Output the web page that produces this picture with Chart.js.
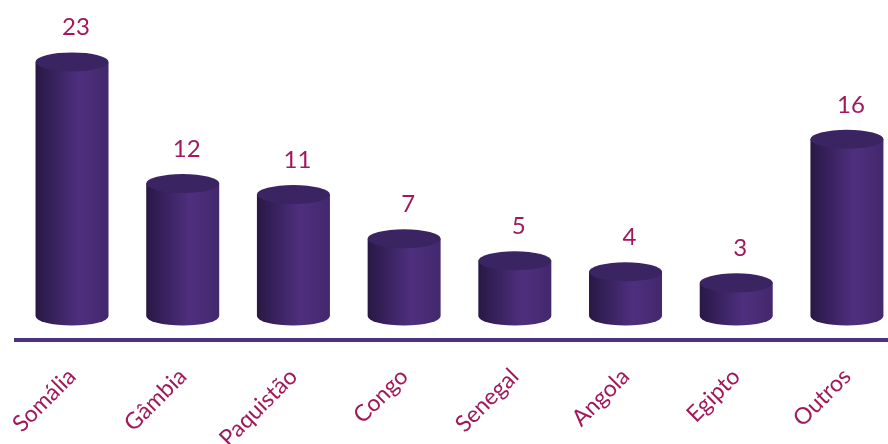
<!DOCTYPE html>
<html>
<head>
    <meta charset="utf-8">
    <title>Países</title>
    <script src="https://cdn.jsdelivr.net/npm/chart.js"></script>
    <style>
        html, body { margin: 0; padding: 0; background: #fff; overflow: hidden; }
        #wrap { width: 888px; height: 444px; }
    </style>
</head>
<body>
    <div id="wrap"><canvas id="chart"></canvas></div>

    <script>
        // dados
        var paises = ["Somália", "Gâmbia", "Paquistão", "Congo", "Senegal", "Angola", "Egipto", "Outros"];
        var valores = [23, 12, 11, 7, 5, 4, 3, 16];

        var corTexto = "#a0195a";
        var fonte = "Lato, 'Open Sans', sans-serif";

        // desenha cilindros por cima das barras (invisíveis)
        var cilindros = {
            id: "cilindros",
            afterDatasetsDraw: function (chart) {
                var ctx = chart.ctx;
                var meta = chart.getDatasetMeta(0);
                meta.data.forEach(function (bar, i) {
                    var x = bar.x, top = bar.y, base = bar.base;
                    var rx = bar.width / 2, ry = 9.5;

                    var grad = ctx.createLinearGradient(x - rx, 0, x + rx, 0);
                    grad.addColorStop(0, "#281845");
                    grad.addColorStop(0.6, "#4e2f7f");
                    grad.addColorStop(1, "#43286c");

                    ctx.save();
                    ctx.beginPath();
                    ctx.moveTo(x - rx, top);
                    ctx.lineTo(x - rx, base);
                    ctx.ellipse(x, base, rx, ry, 0, Math.PI, 0, true);
                    ctx.lineTo(x + rx, top);
                    ctx.closePath();
                    ctx.fillStyle = grad;
                    ctx.fill();

                    // tampa
                    ctx.beginPath();
                    ctx.ellipse(x, top, rx, ry, 0, 0, Math.PI * 2);
                    ctx.fillStyle = "#3a2461";
                    ctx.fill();

                    // valor
                    ctx.fillStyle = corTexto;
                    ctx.font = "24px " + fonte;
                    ctx.textAlign = "center";
                    ctx.textBaseline = "alphabetic";
                    ctx.fillText(valores[i], x + 4, top - ry - 17);
                    ctx.restore();
                });
            }
        };

        var ctx = document.getElementById("chart").getContext("2d");
        var chart = new Chart(ctx, {
            type: "bar",
            data: {
                datasets: [{
                    data: valores.map(function (v, i) { return { x: i, y: v }; }),
                    backgroundColor: "rgba(0,0,0,0)",
                    barThickness: 73
                }]
            },
            options: {
                responsive: true,
                maintainAspectRatio: false,
                animation: false,
                layout: { padding: { left: 16, right: 0, top: 0, bottom: 0 } },
                plugins: {
                    legend: { display: false },
                    tooltip: { enabled: false }
                },
                scales: {
                    x: {
                        type: "linear",
                        offset: false,
                        min: -0.506,
                        max: 7.371,
                        grid: { display: false, offset: false },
                        border: { display: true, color: "#4f3184", width: 4 },
                        afterBuildTicks: function (scale) {
                            scale.ticks = paises.map(function (p, i) { return { value: i }; });
                        },
                        afterFit: function (scale) {
                            scale.height = 104;
                            scale.paddingLeft = 0;
                            scale.paddingRight = 0;
                        },
                        ticks: {
                            autoSkip: false,
                            minRotation: 45,
                            maxRotation: 45,
                            padding: 15,
                            color: corTexto,
                            font: { family: fonte, size: 23 },
                            callback: function (v) { return paises[v]; }
                        }
                    },
                    y: {
                        display: false,
                        min: -2.17,
                        max: 28.6
                    }
                }
            },
            plugins: [cilindros]
        });
    </script>
</body>
</html>
